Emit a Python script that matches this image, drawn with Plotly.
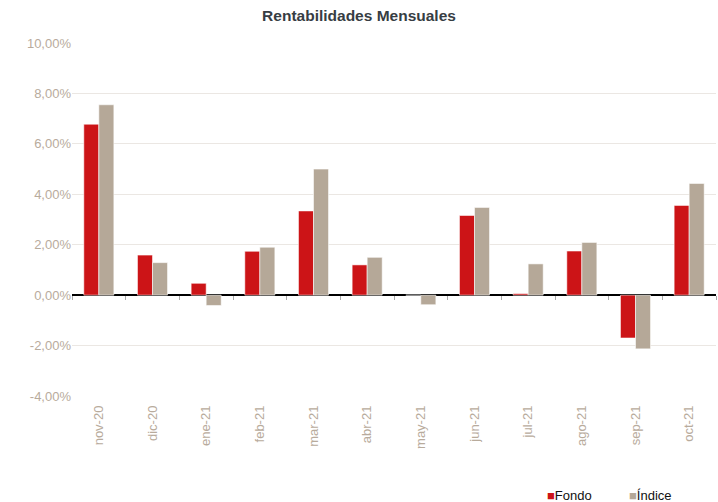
import plotly.graph_objects as go

months = ["nov-20", "dic-20", "ene-21", "feb-21", "mar-21", "abr-21",
          "may-21", "jun-21", "jul-21", "ago-21", "sep-21", "oct-21"]
fondo = [6.78, 1.59, 0.47, 1.74, 3.34, 1.20, 0.0, 3.16, 0.06, 1.75, -1.70, 3.56]
indice = [7.55, 1.29, -0.41, 1.90, 5.00, 1.50, -0.38, 3.48, 1.24, 2.09, -2.13, 4.43]

y_ticks = [-4, -2, 0, 2, 4, 6, 8, 10]
y_labels = [f"{v:.2f}".replace(".", ",") + "%" for v in y_ticks]
y_min, y_max = -4, 10

tick_color = "#b8ab9c"
font_family = "Arial"
series_colors = {"Fondo": "#cc1417", "Índice": "#b5a898"}

fig = go.Figure()
for name, vals in (("Fondo", fondo), ("Índice", indice)):
    fig.add_trace(go.Bar(
        x=months, y=vals, name=name, showlegend=False,
        marker=dict(color=series_colors[name],
                    line=dict(color="rgba(255,255,255,0.55)", width=1)),
    ))

# zero position within the plot's vertical domain, for the boundary tick axis
zero_frac = (0 - y_min) / (y_max - y_min)

# compact legend below the plot, bottom right
legend_x = {"Fondo": 0.735, "Índice": 0.862}
for name, xpos in legend_x.items():
    fig.add_annotation(
        text=f"<span style='color:{series_colors[name]};font-size:13px'>■</span>{name}",
        xref="paper", yref="paper", x=xpos, y=-0.281,
        xanchor="left", yanchor="middle", showarrow=False,
        font=dict(family=font_family, size=13, color="#111111"),
    )

fig.update_layout(
    width=718, height=502,
    margin=dict(l=72, r=2, t=42.5, b=106, autoexpand=False),
    paper_bgcolor="white", plot_bgcolor="white",
    font=dict(family=font_family, color=tick_color, size=13),
    title=dict(text="<b>Rentabilidades Mensuales</b>", x=0.5, xanchor="center",
               y=0.968, yanchor="middle",
               font=dict(family=font_family, size=15.5, color="#373d43")),
    barmode="group", bargap=0.44, bargroupgap=0,
    showlegend=False,
    xaxis=dict(
        type="category", categoryorder="array", categoryarray=months,
        range=[-0.5, len(months) - 0.5],
        tickangle=-90, ticks="", showline=False, showgrid=False,
        tickfont=dict(size=13, color=tick_color), ticklabelstandoff=6,
    ),
    xaxis2=dict(
        overlaying="x", anchor="free", position=zero_frac,
        range=[0, len(months)], tickvals=list(range(len(months) + 1)),
        ticks="outside", ticklen=4, tickcolor="#aaaaaa", tickwidth=1,
        showticklabels=False, showgrid=False, showline=False, zeroline=False,
    ),
    yaxis=dict(
        range=[y_min, y_max], tickvals=y_ticks, ticktext=y_labels,
        showgrid=True, gridcolor="#ebe7e3", gridwidth=1,
        zeroline=True, zerolinecolor="#000000", zerolinewidth=1.5,
        showline=False, ticks="",
        tickfont=dict(size=13, color=tick_color),
    ),
)

# invisible trace so the boundary tick axis is rendered
fig.add_trace(go.Scatter(x=[0, len(months)], y=[0, 0], xaxis="x2", mode="none",
                         showlegend=False, hoverinfo="skip"))

fig.write_html("out.html")
